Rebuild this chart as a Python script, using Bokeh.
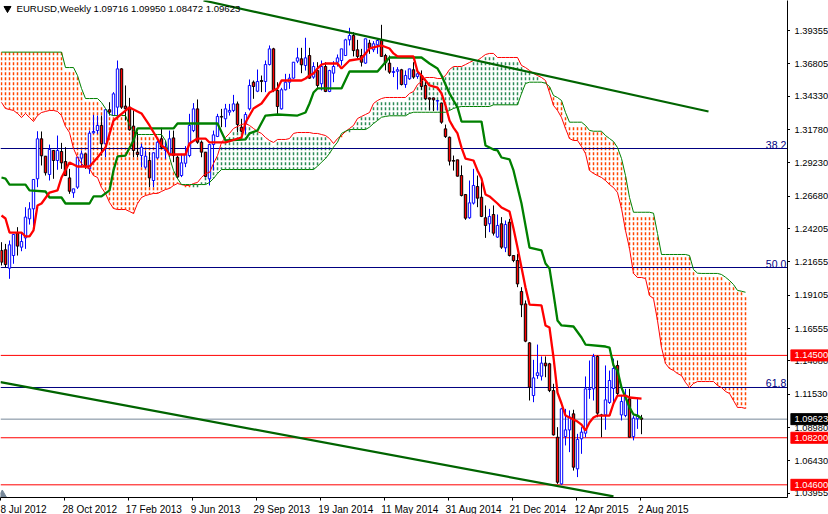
from bokeh.plotting import figure
from bokeh.layouts import row
from bokeh.models import FixedTicker
from bokeh.core.properties import value
from bokeh.embed import file_html
from bokeh.resources import INLINE
import math

opens = [1.2253,1.2258,1.2117,1.2214,1.2385,1.2278,1.2349,1.2495,1.2571,1.2801,
1.3107,1.2974,1.2834,1.3018,1.2941,1.3010,1.2933,1.2808,1.2694,1.2737,
1.2959,1.2992,1.2877,1.3153,1.3170,1.3209,1.3069,1.3329,1.3285,1.3349,
1.3642,1.3357,1.3349,1.3204,1.3005,1.2979,1.2890,1.2941,1.2788,1.2961,
1.3107,1.3018,1.2987,1.3114,1.2966,1.2826,1.2920,1.2979,1.3170,1.3336,
1.3081,1.3005,1.2801,1.3063,1.3125,1.3278,1.3260,1.3311,1.3324,1.3374,
1.3196,1.3222,1.3336,1.3540,1.3471,1.3553,1.3545,1.3675,1.3795,1.3477,
1.3336,1.3482,1.3540,1.3571,1.3701,1.3719,1.3668,1.3744,1.3579,1.3629,
1.3528,1.3660,1.3469,1.3609,1.3693,1.3706,1.3744,1.3864,1.3897,1.3788,
1.3744,1.3686,1.3839,1.3788,1.3826,1.3859,1.3744,1.3686,1.3614,1.3624,
1.3635,1.3522,1.3566,1.3635,1.3584,1.3591,1.3515,1.3420,1.3420,1.3395,
1.3380,1.3183,1.3119,1.2941,1.2946,1.2826,1.2681,1.2503,1.2615,1.2742,
1.2660,1.2503,1.2457,1.2528,1.2355,1.2457,1.2273,1.2469,1.2214,1.2176,
1.1939,1.1844,1.1546,1.1143,1.1296,1.1291,1.1391,1.1386,1.1181,1.0824,
1.0467,1.0829,1.0880,1.1003,1.0582,1.0812,1.0855,1.1189,1.1194,1.1442,
1.0995,1.0995,1.1090,1.1197,1.1373,1.0995,1.0990,1.1118,1.0829,1.0965,1.09716]

closes = [1.2163,1.2145,1.2296,1.2375,1.2286,1.2321,1.2508,1.2571,1.2796,1.3107,
1.2977,1.2847,1.3025,1.2941,1.3018,1.2923,1.2826,1.2706,1.2724,1.2966,
1.2992,1.2903,1.3150,1.3163,1.3209,1.3069,1.3329,1.3311,1.3451,1.3642,
1.3349,1.3336,1.3176,1.3018,1.2987,1.3043,1.2974,1.2808,1.3000,1.3081,
1.3043,1.3043,1.3107,1.2979,1.2814,1.2923,1.2987,1.3209,1.3336,1.3081,
1.3005,1.2819,1.3063,1.3137,1.3278,1.3273,1.3336,1.3324,1.3374,1.3216,
1.3165,1.3293,1.3515,1.3507,1.3545,1.3545,1.3675,1.3795,1.3477,1.3354,
1.3482,1.3540,1.3571,1.3693,1.3726,1.3673,1.3726,1.3571,1.3660,1.3515,
1.3660,1.3469,1.3629,1.3660,1.3726,1.3795,1.3864,1.3897,1.3782,1.3737,
1.3693,1.3872,1.3800,1.3834,1.3859,1.3737,1.3688,1.3617,1.3622,1.3635,
1.3522,1.3591,1.3642,1.3579,1.3604,1.3507,1.3413,1.3410,1.3405,1.3400,
1.3234,1.3124,1.2936,1.2936,1.2821,1.2673,1.2500,1.2617,1.2750,1.2653,
1.2513,1.2444,1.2513,1.2385,1.2444,1.2278,1.2451,1.2214,1.2176,1.1997,
1.1837,1.1559,1.1207,1.1278,1.1317,1.1391,1.1370,1.1181,1.0842,1.0480,
1.1041,1.0880,1.0978,1.0595,1.0807,1.0863,1.1194,1.1194,1.1442,1.1008,
1.0990,1.1110,1.1258,1.1350,1.1159,1.1097,1.1135,1.0824,1.0970,1.0985,1.09623]

highs = [1.2316,1.2303,1.2329,1.2375,1.2431,1.2393,1.2584,1.2622,1.2796,1.3165,
1.3163,1.2974,1.3063,1.3018,1.3132,1.3076,1.3043,1.2877,1.2724,1.2966,
1.3018,1.2992,1.3170,1.3290,1.3285,1.3285,1.3336,1.3387,1.3464,1.3706,
1.3647,1.3515,1.3420,1.3324,1.3158,1.3069,1.3018,1.3005,1.3000,1.3094,
1.3191,1.3094,1.3170,1.3170,1.2979,1.2992,1.3051,1.3298,1.3380,1.3408,
1.3094,1.3005,1.3069,1.3170,1.3298,1.3336,1.3374,1.3374,1.3443,1.3392,
1.3260,1.3311,1.3561,1.3553,1.3637,1.3591,1.3706,1.3821,1.3803,1.3540,
1.3497,1.3604,1.3604,1.3693,1.3803,1.3803,1.3880,1.3803,1.3693,1.3693,
1.3706,1.3693,1.3635,1.3701,1.3752,1.3795,1.3872,1.3956,1.3923,1.3864,
1.3795,1.3872,1.3864,1.3854,1.3872,1.3979,1.3757,1.3744,1.3655,1.3655,
1.3642,1.3630,1.3642,1.3693,1.3624,1.3630,1.3566,1.3420,1.3420,1.3405,
1.3380,1.3216,1.3124,1.2979,1.2946,1.2903,1.2681,1.2788,1.2877,1.2826,
1.2775,1.2597,1.2571,1.2597,1.2528,1.2508,1.2482,1.2495,1.2214,1.2227,
1.1972,1.1870,1.1551,1.1416,1.1533,1.1442,1.1442,1.1393,1.1233,1.0901,
1.1049,1.1041,1.1029,1.1034,1.0850,1.0901,1.1289,1.1411,1.1462,1.1449,
1.1003,1.1373,1.1334,1.1426,1.1411,1.1143,1.1194,1.1194,1.0990,1.1118,1.09950]

lows = [1.2138,1.2125,1.2036,1.2151,1.2214,1.2247,1.2265,1.2451,1.2431,1.2737,
1.2903,1.2826,1.2788,1.2801,1.2870,1.2877,1.2826,1.2686,1.2655,1.2724,
1.2890,1.2877,1.2839,1.3145,1.3145,1.2979,1.2966,1.3285,1.3285,1.3285,
1.3336,1.3247,1.3170,1.2966,1.2966,1.2890,1.2877,1.2737,1.2737,1.2954,
1.3030,1.2954,1.2966,1.2928,1.2801,1.2814,1.2890,1.2966,1.3158,1.3069,
1.2966,1.2814,1.2750,1.2864,1.3120,1.3196,1.3196,1.3285,1.3311,1.3158,
1.3158,1.3145,1.3324,1.3413,1.3464,1.3464,1.3464,1.3668,1.3464,1.3293,
1.3331,1.3477,1.3489,1.3566,1.3686,1.3609,1.3629,1.3566,1.3566,1.3497,
1.3477,1.3464,1.3464,1.3540,1.3660,1.3668,1.3744,1.3821,1.3737,1.3719,
1.3660,1.3681,1.3757,1.3770,1.3757,1.3737,1.3630,1.3604,1.3579,1.3484,
1.3515,1.3497,1.3558,1.3566,1.3566,1.3482,1.3405,1.3324,1.3319,1.3324,
1.3222,1.3114,1.2903,1.2864,1.2819,1.2666,1.2487,1.2495,1.2604,1.2584,
1.2508,1.2349,1.2393,1.2367,1.2350,1.2265,1.2240,1.2207,1.2163,1.1972,
1.1743,1.1551,1.1105,1.1092,1.1271,1.1258,1.1283,1.1169,1.0837,1.0467,
1.0462,1.0761,1.0710,1.0569,1.0519,1.0697,1.0824,1.1118,1.1105,1.0977,
1.0824,1.0881,1.1079,1.1067,1.1143,1.0952,1.0977,1.0824,1.0800,1.0888,1.08472]

span_a = [1.3385,1.3339,1.3331,1.3324,1.3301,1.3270,1.3301,1.3270,1.3239,1.3285,
1.3308,1.3316,1.3324,1.3324,1.3316,1.3285,1.3201,1.3155,1.3033,1.2964,
1.2918,1.2887,1.2880,1.2826,1.2811,1.2734,1.2689,1.2620,1.2574,1.2566,
1.2566,1.2566,1.2551,1.2536,1.2612,1.2658,1.2673,1.2681,1.2689,1.2689,
1.2704,1.2719,1.2727,1.2750,1.2765,1.2757,1.2750,1.2750,1.2765,1.2773,
1.2811,1.2842,1.2849,1.2918,1.2979,1.3079,1.3117,1.3148,1.3186,1.3201,
1.3216,1.3224,1.3209,1.3186,1.3163,1.3148,1.3117,1.3094,1.3079,1.3102,
1.3102,1.3102,1.3109,1.3148,1.3155,1.3155,1.3155,1.3155,1.3148,1.3148,
1.3140,1.3132,1.3109,1.3071,1.3109,1.3132,1.3163,1.3186,1.3209,1.3262,
1.3278,1.3293,1.3308,1.3377,1.3400,1.3415,1.3423,1.3423,1.3423,1.3423,
1.3423,1.3423,1.3454,1.3469,1.3522,1.3545,1.3576,1.3576,1.3576,1.3568,
1.3568,1.3591,1.3637,1.3660,1.3660,1.3660,1.3675,1.3691,1.3706,1.3706,
1.3729,1.3752,1.3760,1.3760,1.3729,1.3729,1.3729,1.3729,1.3729,1.3729,
1.3668,1.3652,1.3630,1.3607,1.3591,1.3576,1.3553,1.3461,1.3362,1.3324,
1.3270,1.3186,1.3109,1.3094,1.3094,1.3048,1.2995,1.2865,1.2842,1.2826,
1.2811,1.2788,1.2757,1.2734,1.2696,1.2574,1.2406,1.2268,1.2077,1.2046,
1.2046,1.2038,1.1908,1.1885,1.1717,1.1510,1.1388,1.1350,1.1335,1.1311,
1.1296,1.1243,1.1204,1.1235,1.1250,1.1250,1.1250,1.1250,1.1250,1.1220,
1.1204,1.1174,1.1159,1.1105,1.1052,1.1052,1.1044]

span_b = [1.3770,1.3770,1.3770,1.3770,1.3770,1.3770,1.3770,1.3770,1.3770,1.3770,
1.3770,1.3770,1.3770,1.3770,1.3770,1.3770,1.3652,1.3652,1.3652,1.3591,
1.3492,1.3415,1.3415,1.3415,1.3415,1.3385,1.3339,1.3293,1.3285,1.3285,
1.3285,1.3285,1.3209,1.3171,1.3140,1.3140,1.3140,1.3140,1.3140,1.3140,
1.3140,1.3094,1.2964,1.2865,1.2803,1.2757,1.2757,1.2757,1.2757,1.2757,
1.2757,1.2757,1.2773,1.2803,1.2842,1.2872,1.2872,1.2872,1.2872,1.2872,
1.2872,1.2872,1.2872,1.2872,1.2872,1.2872,1.2872,1.2872,1.2872,1.2872,
1.2872,1.2872,1.2872,1.2872,1.2872,1.2872,1.2872,1.2872,1.2872,1.2897,
1.2928,1.2956,1.2995,1.3043,1.3081,1.3148,1.3165,1.3178,1.3178,1.3178,
1.3178,1.3178,1.3196,1.3224,1.3247,1.3272,1.3278,1.3283,1.3283,1.3283,
1.3283,1.3283,1.3301,1.3310,1.3310,1.3310,1.3310,1.3310,1.3310,1.3310,
1.3310,1.3310,1.3324,1.3339,1.3349,1.3354,1.3354,1.3354,1.3354,1.3354,
1.3354,1.3354,1.3354,1.3367,1.3367,1.3367,1.3367,1.3367,1.3367,1.3367,
1.3454,1.3530,1.3540,1.3540,1.3540,1.3540,1.3532,1.3507,1.3438,1.3423,
1.3400,1.3308,1.3234,1.3234,1.3234,1.3234,1.3209,1.3171,1.3165,1.3165,
1.3165,1.3132,1.3109,1.3086,1.3040,1.2956,1.2826,1.2658,1.2545,1.2545,
1.2545,1.2545,1.2545,1.2538,1.2383,1.2222,1.2222,1.2222,1.2222,1.2222,
1.2222,1.2222,1.2214,1.2107,1.2079,1.2077,1.2077,1.2077,1.2077,1.2077,
1.2069,1.2048,1.2023,1.1992,1.1947,1.1941,1.1933]

tenkan_bars = [0,1,2,5,6,7,8,9,10,12,14,15,17,19,22,24,26,28,32,35,37,40,41,42,46,47,49,51,52,56,60,61,63,65,67,
69,70,75,76,77,78,79,80,81,84,85,87,90,92,95,97,98,99,103,104,105,107,109,110,111,112,113,114,115,116,118,119,120,
121,122,124,125,126,127,128,129,130,131,132,135,136,137,138,139,140,141,142,143,144,145,146,147,148,149,152,153,154,156,157,160]
tenkan_vals = [1.2520,1.2497,1.2390,1.2390,1.2360,1.2360,1.2406,1.2597,1.2612,1.2696,1.2712,1.2811,1.2926,1.2895,1.2895,1.2964,1.3040,1.3247,1.3347,1.3301,1.3209,1.3056,1.3033,1.2987,1.2987,1.3071,1.3109,1.3109,1.3079,1.3079,1.3117,1.3232,1.3339,1.3377,1.3461,
1.3492,1.3553,1.3553,1.3568,1.3591,1.3607,1.3645,1.3675,1.3683,1.3683,1.3645,1.3706,1.3721,1.3798,1.3821,1.3798,1.3760,1.3737,1.3737,1.3622,1.3591,1.3515,1.3499,1.3454,1.3362,1.3247,1.3193,1.3148,1.3040,1.2956,1.2941,1.2865,1.2803,
1.2681,1.2666,1.2612,1.2581,1.2566,1.2551,1.2421,1.2275,1.2122,1.1969,1.1839,1.1832,1.1679,1.1663,1.1434,1.1166,1.1082,1.0990,1.0975,1.0960,1.0944,1.0921,1.0875,1.0937,1.0975,1.0990,1.0990,1.1082,1.1143,1.1143,1.1128,1.1120]

kijun_bars = [0,1,2,6,7,11,12,15,16,22,23,25,27,28,29,31,33,34,43,44,54,56,61,62,64,66,69,74,76,77,78,79,85,87,94,97,105,107,109,110,112,113,114,115,120,121,123,124,125,127,128,130,132,135,136,137,138,139,140,143,145,146,151,152,153,154,155,156,157,158,159,160]
kijun_vals = [1.2811,1.2803,1.2757,1.2757,1.2712,1.2704,1.2658,1.2658,1.2612,1.2612,1.2666,1.2666,1.2712,1.2865,1.2972,1.2979,1.3094,1.3186,1.3186,1.3224,1.3224,1.3094,1.3102,1.3148,1.3171,1.3285,1.3293,1.3285,1.3308,1.3377,1.3461,1.3492,1.3492,1.3622,1.3622,1.3729,1.3729,1.3683,1.3645,1.3591,1.3454,1.3400,1.3347,1.3239,1.3239,1.3056,1.3025,1.3018,1.2964,1.2949,1.2865,1.2612,1.2275,1.2253,1.2153,1.2115,1.1923,1.1717,1.1679,1.1671,1.1587,1.1533,1.1518,1.1510,1.1373,1.1335,1.1204,1.1128,1.1052,1.0998,1.0990,1.0967]

upper_trend_bars = [50.5, 176.75]
upper_trend_vals = [1.4165, 1.3316]
lower_trend_bars = [-0.25, 153.0]
lower_trend_vals = [1.1245, 1.0371]

fib_levels = [1.30328, 1.21224, 1.12045]
fib_names = ["38.2", "50.0", "61.8"]
red_levels = [1.14500, 1.08200, 1.04600]
red_names = ["1.14500", "1.08200", "1.04600"]
last_price = 1.09623

price_ticks = [1.39355,1.36805,1.34330,1.31780,1.29230,1.26680,1.24205,1.21655,1.19105,1.16555,1.14080,1.11530,1.08980,1.06430,1.03955]
price_labels = ["1.39355","1.36805","1.34330","1.31780","1.29230","1.26680","1.24205","1.21655","1.19105","1.16555","1.14080","1.11530","1.08980","1.06430","1.03955"]
date_ticks = [-0.25,15.75,31.75,47.75,63.75,79.75,95.75,111.75,127.75,143.75,159.75]
date_labels = ["8 Jul 2012","28 Oct 2012","17 Feb 2013","9 Jun 2013","29 Sep 2013","19 Jan 2014","11 May 2014","31 Aug 2014","21 Dec 2014","12 Apr 2015","2 Aug 2015"]
header = "EURUSD,Weekly  1.09716 1.09950 1.08472 1.09623"

FONT = "Liberation Sans"
PRICE_PER_PX = 0.000765
BARS_PER_PX = 0.25
FW, FH, SIDE_W, SIDE_H = 787, 497, 38, 514
Y_TOP = 1.4165
Y_BOTTOM = Y_TOP - FH * PRICE_PER_PX
X_LEFT = -0.25
X_RIGHT = X_LEFT + FW * BARS_PER_PX

p = figure(frame_width=FW, frame_height=FH, output_backend="svg", toolbar_location=None,
           x_range=(X_LEFT, X_RIGHT), y_range=(Y_BOTTOM, Y_TOP),
           x_axis_location="below", y_axis_location="right",
           min_border_left=0, min_border_top=0, min_border_right=0, min_border_bottom=0,
           outline_line_color=None, background_fill_color="white")
p.grid.visible = False

# Ichimoku cloud: dashed columns with dash phase lined up between columns
step = 5 * PRICE_PER_PX
for cloud_up, color in ((False, "#ff4500"), (True, "#2e8b57")):
    xs, y0, y1 = [], [], []
    for i, (a, b) in enumerate(zip(span_a, span_b)):
        if (a > b) == cloud_up and a != b:
            xs.append(i)
            y0.append(math.floor(max(a, b) / step) * step)
            y1.append(min(a, b))
    p.segment(xs, y0, xs, y1, line_color=color, line_width=1.5, line_dash="3 2")

# Horizontal levels
for lv in fib_levels:
    p.line([X_LEFT, X_RIGHT], [lv, lv], line_color="#000080", line_width=1)
for lv in red_levels:
    p.line([X_LEFT, X_RIGHT], [lv, lv], line_color="#ff0000", line_width=1)
p.line([X_LEFT, X_RIGHT], [last_price, last_price], line_color="#778899", line_width=1)

# Candles
idx = list(range(len(opens)))
up = [i for i in idx if closes[i] >= opens[i]]
dn = [i for i in idx if closes[i] < opens[i]]
p.segment(up, [highs[i] for i in up], up, [lows[i] for i in up], line_color="#0000ff", line_width=1)
p.segment(dn, [highs[i] for i in dn], dn, [lows[i] for i in dn], line_color="#000000", line_width=1)
p.vbar(up, 0.6, [closes[i] for i in up], [opens[i] for i in up], fill_color="#ffffff", line_color="#0000ff", line_width=1)
p.vbar(dn, 0.6, [opens[i] for i in dn], [closes[i] for i in dn], fill_color="#ff0000", line_color="#000000", line_width=1)

# Ichimoku lines
p.line(list(range(len(span_a))), span_a, line_color="#ff0000", line_width=1)
p.line(list(range(len(span_b))), span_b, line_color="#008000", line_width=1)
p.line(kijun_bars, kijun_vals, line_color="#008000", line_width=2.3)
p.line(tenkan_bars, tenkan_vals, line_color="#ff0000", line_width=2.3)

# Trend lines
p.line(upper_trend_bars, upper_trend_vals, line_color="#006400", line_width=2.2)
p.line(lower_trend_bars, lower_trend_vals, line_color="#006400", line_width=2.2)

# Fibonacci tags
p.text(x=[196.2] * 3, y=fib_levels, text=fib_names, text_color="#000080",
       text_font=value(FONT), text_font_size="10.5px", text_align="right", text_baseline="bottom")

# Header and markers
header_y = 1.4165 - 8 * PRICE_PER_PX
p.text(x=[3.75], y=[header_y], text=[header], text_color="#000000",
       text_font=value(FONT), text_font_size="9.6px", text_align="left", text_baseline="middle")
p.scatter([1.5], [header_y], marker="inverted_triangle", size=7, fill_color="#000000", line_color="#000000")
p.scatter([0.2], [1.0385], marker="triangle", size=8, fill_color="#778899", line_color="#778899")

# Bottom axis: tick marks sit at the dates, texts start at the tick mark as in the reference
half_widths = [len(n) * 2.3 * BARS_PER_PX for n in date_labels]
label_pos = [max(t + h, X_LEFT + h) for t, h in zip(date_ticks, half_widths)]
xa = p.xaxis[0]
xa.ticker = FixedTicker(ticks=label_pos, minor_ticks=date_ticks)
xa.major_label_overrides = dict(zip(label_pos, date_labels))
xa.major_label_text_font = FONT
xa.major_label_text_font_size = "10px"
xa.major_label_text_color = "#000000"
xa.major_label_standoff = 3
xa.major_tick_line_color = None
xa.major_tick_out = 0
xa.major_tick_in = 0
xa.minor_tick_out = 3
xa.minor_tick_in = 0
xa.minor_tick_line_color = "#000000"
xa.axis_line_color = "#000000"

# Right axis: tick marks only, its texts are in the narrow panel next to it
ya = p.yaxis[0]
ya.ticker = FixedTicker(ticks=[], minor_ticks=price_ticks)
ya.major_tick_line_color = None
ya.major_tick_out = 0
ya.major_tick_in = 0
ya.minor_tick_out = 3
ya.minor_tick_in = 0
ya.minor_tick_line_color = "#000000"
ya.axis_line_color = "#000000"

# Panel with the price texts and the boxed price tags
side = figure(frame_width=SIDE_W, frame_height=SIDE_H, output_backend="svg", toolbar_location=None,
              x_range=(0, SIDE_W), y_range=(Y_TOP - SIDE_H * PRICE_PER_PX, Y_TOP),
              x_axis_type=None, y_axis_type=None,
              min_border_left=0, min_border_top=0, min_border_right=0, min_border_bottom=0,
              outline_line_color=None, background_fill_color="white")
side.grid.visible = False
side.text(x=[4] * len(price_ticks), y=price_ticks, text=price_labels, text_color="#000000",
          text_font=value(FONT), text_font_size="9.3px", text_align="left", text_baseline="middle")
half_box = 5.5 * PRICE_PER_PX
tag_levels = red_levels + [last_price]
tag_names = red_names + ["1.09623"]
tag_fill = ["#ff0000"] * 3 + ["#000000"]
side.quad(left=[0] * 4, right=[SIDE_W] * 4, top=[v + half_box for v in tag_levels],
          bottom=[v - half_box for v in tag_levels], fill_color=tag_fill, line_color=tag_fill)
side.text(x=[4] * 4, y=tag_levels, text=tag_names, text_color="#ffffff",
          text_font=value(FONT), text_font_size="9.3px", text_align="left", text_baseline="middle")

layout = row(p, side, spacing=0)
open("out.html", "w").write(file_html(layout, INLINE))
